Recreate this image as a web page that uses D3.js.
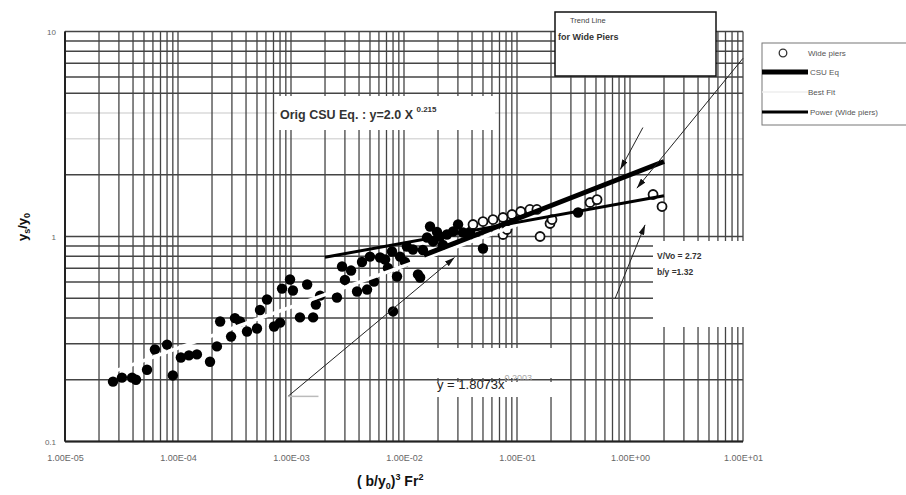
<!DOCTYPE html>
<html>
<head>
<meta charset="utf-8">
<script src="https://cdn.jsdelivr.net/npm/d3@7"></script>
<style>
  body { margin: 0; background: #fff; }
  svg { display: block; font-family: "Liberation Sans", Arial, sans-serif; }
</style>
</head>
<body>
<svg id="chart" width="906" height="495"></svg>
<script>
// all piers (filled dots), [ (b/y0)^3 Fr^2 , ys/y0 ]
const allPiers = [
  [2.66e-5, 0.196], [3.19e-5, 0.205], [3.92e-5, 0.205], [4.25e-5, 0.200],
  [5.32e-5, 0.224], [6.25e-5, 0.281], [8.0e-5, 0.297], [9.0e-5, 0.210],
  [1.06e-4, 0.257], [1.25e-4, 0.263], [1.47e-4, 0.266], [1.92e-4, 0.245],
  [2.21e-4, 0.291], [2.36e-4, 0.385], [2.95e-4, 0.325], [3.54e-4, 0.385],
  [3.19e-4, 0.400], [4.08e-4, 0.344], [5.0e-4, 0.356], [5.32e-4, 0.438],
  [6.13e-4, 0.493], [7.08e-4, 0.364],
  [8.0e-4, 0.380], [8.33e-4, 0.557], [9.8e-4, 0.617], [1.04e-3, 0.545],
  [1.20e-3, 0.403], [1.39e-3, 0.583], [1.57e-3, 0.403], [1.66e-3, 0.466],
  [1.81e-3, 0.515], [2.55e-3, 0.504], [2.83e-3, 0.714], [3.0e-3, 0.614],
  [3.40e-3, 0.682], [3.84e-3, 0.539], [4.25e-3, 0.751], [4.71e-3, 0.551],
  [5.0e-3, 0.798], [5.43e-3, 0.603], [6.14e-3, 0.790], [6.80e-3, 0.772],
  [7.2e-3, 0.702], [7.83e-3, 0.845], [8.0e-3, 0.431], [8.67e-3, 0.638],
  [9.22e-3, 0.798], [1.02e-2, 0.751], [1.06e-2, 0.894], [1.20e-2, 0.864],
  [1.33e-2, 0.653], [1.39e-2, 0.631], [1.47e-2, 0.859], [1.60e-2, 0.989],
  [1.70e-2, 1.119], [1.81e-2, 0.946], [1.96e-2, 1.052], [2.08e-2, 1.0],
  [2.21e-2, 0.909], [2.40e-2, 1.023], [2.72e-2, 1.058], [3.01e-2, 1.144],
  [3.33e-2, 1.046], [3.84e-2, 1.052], [5.0e-2, 0.874], [0.347, 1.309]
];

// wide piers (open markers)
const widePiers = [
  [4.08e-2, 1.144], [5.0e-2, 1.183], [6.13e-2, 1.210], [7.52e-2, 1.238],
  [9.03e-2, 1.280], [0.108, 1.324], [0.130, 1.355], [0.150, 1.355],
  [7.52e-2, 1.023], [8.16e-2, 1.082], [0.160, 1.0], [0.196, 1.157],
  [0.204, 1.210], [0.443, 1.465], [0.511, 1.514], [1.60, 1.603], [1.92, 1.40]
];

// power laws y = a * x^b : [a, b], and x extent of each drawn line
const csuCoef = [2.0, 0.215];
const csuRange = [0.015, 2];
const bestFitCoef = [1.8073, 0.2003];
const bestFitRange = [2.5e-5, 0.12];
const powerCoef = [1.475, 0.1];
const powerRange = [0.002, 2];

// annotation arrows, [from, to] in data units
const arrows = [
  [[9.4e-4, 0.166], [0.028, 0.79]],
  [[1.30, 3.40], [0.82, 2.12]],
  [[10, 7.4], [1.15, 1.72]],
  [[0.74, 0.50], [1.36, 1.14]]
];
const leader = [[9.4e-4, 0.166], [1.75e-3, 0.166]];

const xTicks = [1e-5, 1e-4, 1e-3, 1e-2, 1e-1, 1, 10];
const xTickLabels = ["1.00E-05", "1.00E-04", "1.00E-03", "1.00E-02", "1.00E-01", "1.00E+00", "1.00E+01"];
const yTicks = [0.1, 1, 10];
const yTickLabels = ["0.1", "1", "10"];
const yGridFaint = [3, 4];

const legendItems = ["Wide piers", "CSU Eq", "Best Fit", "Power (Wide piers)"];

const svg = d3.select("#chart");
const margin = {left: 65, right: 163, top: 31.5, bottom: 53.5};
const W = 906, H = 495;

const x = d3.scaleLog().domain([1e-5, 10]).range([margin.left, W - margin.right]);
const y = d3.scaleLog().domain([0.1, 10]).range([H - margin.bottom, margin.top]);

const defs = svg.append("defs");
defs.append("marker")
  .attr("id", "head")
  .attr("viewBox", "0 0 10 6")
  .attr("refX", 10).attr("refY", 3)
  .attr("markerWidth", 10).attr("markerHeight", 6)
  .attr("markerUnits", "userSpaceOnUse")
  .attr("orient", "auto")
  .append("path").attr("d", "M0,0 L10,3 L0,6 Z").attr("fill", "#111");

// grid
const grid = svg.append("g");
grid.selectAll(".vg").data(x.ticks()).enter().append("line")
  .attr("x1", d => x(d)).attr("x2", d => x(d))
  .attr("y1", y(10)).attr("y2", y(0.1))
  .attr("stroke", "#444").attr("stroke-width", 1.3);
grid.selectAll(".hg").data(y.ticks()).enter().append("line")
  .attr("x1", x(1e-5)).attr("x2", x(10))
  .attr("y1", d => y(d)).attr("y2", d => y(d))
  .attr("stroke", "#444").attr("stroke-width", 1.5)
  .attr("stroke-opacity", d => yGridFaint.some(v => Math.abs(v - d) < 1e-9) ? 0.2 : 1);

// frame
svg.append("line").attr("x1", x(1e-5)).attr("x2", x(1e-5)).attr("y1", y(10)).attr("y2", y(0.1))
  .attr("stroke", "#222").attr("stroke-width", 2);
svg.append("line").attr("x1", x(1e-5)).attr("x2", x(10)).attr("y1", y(0.1)).attr("y2", y(0.1))
  .attr("stroke", "#222").attr("stroke-width", 2);

// axes
const xAxis = svg.append("g")
  .attr("transform", `translate(0,${y(0.1)})`)
  .call(d3.axisBottom(x).tickValues(xTicks).tickSize(0).tickPadding(13)
    .tickFormat((d, i) => xTickLabels[i]));
xAxis.select(".domain").remove();
xAxis.selectAll("text").attr("font-size", "9px").attr("fill", "#666")
  .attr("font-family", "Liberation Sans, Arial, sans-serif");

const yAxis = svg.append("g")
  .attr("transform", `translate(${x(1e-5)},0)`)
  .call(d3.axisLeft(y).tickValues(yTicks).tickSize(0).tickPadding(9)
    .tickFormat((d, i) => yTickLabels[i]));
yAxis.select(".domain").remove();
yAxis.selectAll("text").attr("font-size", "8px").attr("fill", "#666")
  .attr("font-family", "Liberation Sans, Arial, sans-serif");

// white label backgrounds over the grid
svg.append("rect").attr("x", 277).attr("y", 96).attr("width", 218).attr("height", 34).attr("fill", "#fff");
svg.append("rect").attr("x", 653).attr("y", 241).attr("width", 95).attr("height", 86).attr("fill", "#fff");
svg.append("rect").attr("x", 432).attr("y", 348).attr("width", 122).attr("height", 30).attr("fill", "#fff");
svg.append("rect").attr("x", 432).attr("y", 382).attr("width", 122).attr("height", 15).attr("fill", "#fff");

// points
svg.append("g").selectAll("circle").data(allPiers).enter().append("circle")
  .attr("cx", d => x(d[0])).attr("cy", d => y(d[1])).attr("r", 5.2).attr("fill", "#000");

svg.append("g").selectAll("circle").data(widePiers).enter().append("circle")
  .attr("cx", d => x(d[0])).attr("cy", d => y(d[1])).attr("r", 4.5)
  .attr("fill", "#fff").attr("stroke", "#111").attr("stroke-width", 1.8);

// fitted lines
const line = d3.line().x(d => x(d[0])).y(d => y(d[1]));
const powerLine = (coef, range) => range.map(v => [v, coef[0] * Math.pow(v, coef[1])]);

svg.append("path").datum(powerLine(bestFitCoef, bestFitRange)).attr("d", line)
  .attr("fill", "none").attr("stroke", "#fff").attr("stroke-width", 3.5);
svg.append("path").datum(powerLine(powerCoef, powerRange)).attr("d", line)
  .attr("fill", "none").attr("stroke", "#000").attr("stroke-width", 3);
svg.append("path").datum(powerLine(csuCoef, csuRange)).attr("d", line)
  .attr("fill", "none").attr("stroke", "#000").attr("stroke-width", 5);

// arrows
svg.append("g").selectAll("line").data(arrows).enter().append("line")
  .attr("x1", d => x(d[0][0])).attr("y1", d => y(d[0][1]))
  .attr("x2", d => x(d[1][0])).attr("y2", d => y(d[1][1]))
  .attr("stroke", "#222").attr("stroke-width", 1)
  .attr("marker-end", "url(#head)");
svg.append("path").datum(leader).attr("d", line)
  .attr("stroke", "#bbb").attr("stroke-width", 1.5);

// labels
const csuText = svg.append("text").attr("x", 280).attr("y", 119)
  .attr("font-size", "12.5px").attr("font-weight", "bold").attr("fill", "#333");
csuText.append("tspan").text("Orig CSU Eq. : y=2.0 X ");
csuText.append("tspan").attr("dy", -7).attr("font-size", "8px").text("0.215");

const fitText = svg.append("text").attr("x", 437).attr("y", 389)
  .attr("font-size", "13px").attr("fill", "#222");
fitText.append("tspan").text("y = 1.8073x");
fitText.append("tspan").attr("dy", -8).attr("font-size", "9px").attr("fill", "#aaa").text("0.2003");

svg.append("text").attr("x", 657).attr("y", 259).attr("font-size", "8.5px")
  .attr("font-weight", "bold").attr("fill", "#333").text("V/Vo = 2.72");
svg.append("text").attr("x", 657).attr("y", 275).attr("font-size", "8.5px")
  .attr("font-weight", "bold").attr("fill", "#333").text("b/y =1.32");

// trend line box
svg.append("rect").attr("x", 555).attr("y", 12).attr("width", 161).attr("height", 64)
  .attr("fill", "#fff").attr("stroke", "#111").attr("stroke-width", 1.5);
svg.append("text").attr("x", 570).attr("y", 23).attr("font-size", "7.5px").attr("fill", "#444").text("Trend Line");
svg.append("text").attr("x", 558).attr("y", 40).attr("font-size", "9px")
  .attr("font-weight", "bold").attr("fill", "#333").text("for Wide Piers");

// axis titles
const xTitle = svg.append("text").attr("x", 357).attr("y", 486)
  .attr("font-size", "14px").attr("font-weight", "bold").attr("fill", "#111");
xTitle.append("tspan").text("( b/y");
xTitle.append("tspan").attr("dy", 3).attr("font-size", "9px").text("0");
xTitle.append("tspan").attr("dy", -3).text(")");
xTitle.append("tspan").attr("dy", -6).attr("font-size", "9px").text("3");
xTitle.append("tspan").attr("dy", 6).text(" Fr");
xTitle.append("tspan").attr("dy", -6).attr("font-size", "9px").text("2");

const yTitle = svg.append("text").attr("transform", "translate(27,227) rotate(-90)")
  .attr("text-anchor", "middle").attr("font-size", "13px").attr("font-weight", "bold").attr("fill", "#111");
yTitle.append("tspan").text("y");
yTitle.append("tspan").attr("dy", 3).attr("font-size", "9px").text("s");
yTitle.append("tspan").attr("dy", -3).text("/y");
yTitle.append("tspan").attr("dy", 3).attr("font-size", "9px").text("0");

// legend
const lg = svg.append("g").attr("transform", "translate(762,43)");
lg.append("rect").attr("width", 150).attr("height", 82).attr("fill", "#fff")
  .attr("stroke", "#777").attr("stroke-width", 1);
const rowY = [10, 29, 49, 69];
lg.append("circle").attr("cx", 21).attr("cy", rowY[0]).attr("r", 3.8)
  .attr("fill", "#fff").attr("stroke", "#333").attr("stroke-width", 1.3);
lg.append("line").attr("x1", 0).attr("x2", 46).attr("y1", rowY[1]).attr("y2", rowY[1])
  .attr("stroke", "#000").attr("stroke-width", 5);
lg.append("line").attr("x1", 0).attr("x2", 46).attr("y1", rowY[2]).attr("y2", rowY[2])
  .attr("stroke", "#eee").attr("stroke-width", 1.5);
lg.append("line").attr("x1", 0).attr("x2", 46).attr("y1", rowY[3]).attr("y2", rowY[3])
  .attr("stroke", "#000").attr("stroke-width", 3);
lg.selectAll(".lt").data(legendItems).enter().append("text")
  .attr("x", (d, i) => i === 0 || i === 2 ? 46 : 48)
  .attr("y", (d, i) => rowY[i] + 3)
  .attr("font-size", "8px").attr("fill", "#555").text(d => d);
</script>
</body>
</html>
